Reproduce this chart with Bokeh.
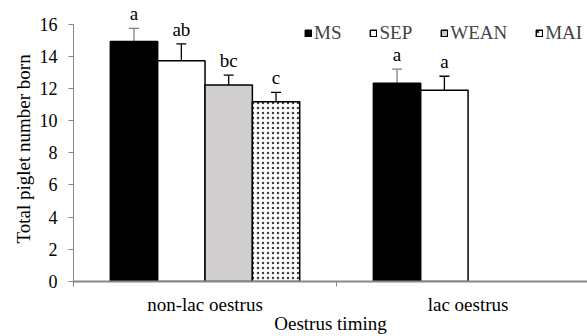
from bokeh.plotting import figure
from bokeh.models import (Range1d, FixedTicker, ColumnDataSource, Whisker, TeeHead,
                          LabelSet, Legend, LegendItem, Title)
from bokeh.embed import file_html
from bokeh.resources import INLINE

# ---- data ----
categories = ["non-lac oestrus", "lac oestrus"]
series = ["MS", "SEP", "WEAN", "MAI"]
ms_mean = [14.92, 12.32]
ms_err = [0.82, 0.88]
ms_letters = ["a", "a"]
sep_mean = [13.73, 11.89]
sep_err = [1.04, 0.87]
sep_letters = ["ab", "a"]
wean_mean = [12.22]
wean_err = [0.61]
wean_letters = ["bc"]
mai_mean = [11.18]
mai_err = [0.58]
mai_letters = ["c"]
y_ticks = [0, 2, 4, 6, 8, 10, 12, 14, 16]
x_title = "Oestrus timing"
y_title = "Total piglet number born"

FONT = "Liberation Serif"
AXIS_GREY = "#878787"
BAR_W = 0.18

p = figure(width=587, height=336, output_backend="svg", toolbar_location=None,
           x_range=Range1d(0, 1.954), y_range=Range1d(0, 17.47),
           min_border_left=73, min_border_right=0, min_border_top=0, min_border_bottom=51)
p.outline_line_color = None
p.xgrid.visible = False
p.ygrid.visible = False
p.background_fill_color = "white"

styles = {
    "MS": dict(fill_color="black", err="#808080", hatch=None),
    "SEP": dict(fill_color="white", err="black", hatch=None),
    "WEAN": dict(fill_color="#d0cece", err="black", hatch=None),
    "MAI": dict(fill_color="white", err="black", hatch="dot"),
}
data = {
    "MS": (ms_mean, ms_err, ms_letters),
    "SEP": (sep_mean, sep_err, sep_letters),
    "WEAN": (wean_mean, wean_err, wean_letters),
    "MAI": (mai_mean, mai_err, mai_letters),
}

renderers = {}
for k, name in enumerate(series):
    mean, err, letters = data[name]
    xs = [i + 0.5 + (k - 1.5) * BAR_W for i in range(len(mean))]
    src = ColumnDataSource(dict(
        x=xs, top=mean,
        upper=[m + e for m, e in zip(mean, err)],
        lower=[m - e for m, e in zip(mean, err)],
        letter=letters,
    ))
    st = styles[name]
    kw = dict(fill_color=st["fill_color"], line_color="black", line_width=1.5)
    if st["hatch"]:
        kw.update(hatch_pattern=st["hatch"], hatch_color="black", hatch_scale=5,
                  hatch_weight=0.5, hatch_alpha=0.75)
    r = p.vbar(x="x", top="top", bottom=0, width=BAR_W, source=src, **kw)
    renderers[name] = r
    w = Whisker(base="x", upper="upper", lower="lower", source=src,
                line_color=st["err"], line_width=1.3,
                upper_head=TeeHead(size=10, line_color=st["err"], line_width=1.3),
                lower_head=TeeHead(size=10, line_color=st["err"], line_width=1.3))
    p.add_layout(w)
    lbl = LabelSet(x="x", y="upper", text="letter", source=src,
                   text_align="center", text_baseline="alphabetic", y_offset=8,
                   text_font=FONT, text_font_size="19px", text_color="black")
    p.add_layout(lbl)

# ---- axes ----
xa = p.xaxis[0]
xa.ticker = FixedTicker(ticks=[i + 0.5 for i in range(len(categories))],
                        minor_ticks=list(range(len(categories) + 1)))
xa.major_label_overrides = {i + 0.5: c for i, c in enumerate(categories)}
xa.major_tick_out = 0
xa.major_tick_in = 0
xa.minor_tick_out = 5
xa.minor_tick_in = 0
xa.minor_tick_line_color = AXIS_GREY
xa.axis_line_color = AXIS_GREY
xa.axis_line_width = 2
xa.major_label_text_font = FONT
xa.major_label_text_font_size = "19px"
xa.major_label_text_line_height = 0.6
xa.major_label_text_color = "black"
xa.major_label_standoff = 7
xa.axis_label = x_title
xa.axis_label_text_font = FONT
xa.axis_label_text_font_size = "19px"
xa.axis_label_text_line_height = 0.6
xa.axis_label_text_font_style = "normal"
xa.axis_label_text_color = "black"
xa.axis_label_standoff = -5

ya = p.yaxis[0]
ya.ticker = FixedTicker(ticks=y_ticks)
ya.bounds = (y_ticks[0], y_ticks[-1])
ya.major_tick_out = 5
ya.major_tick_in = 0
ya.minor_tick_out = 0
ya.minor_tick_in = 0
ya.major_tick_line_color = AXIS_GREY
ya.axis_line_color = AXIS_GREY
ya.axis_line_width = 1
ya.major_label_text_font = FONT
ya.major_label_text_font_size = "18px"
ya.major_label_text_color = "black"
ya.major_label_standoff = 11

p.add_layout(Title(text=y_title, align="left", offset=38, standoff=6,
                   text_font=FONT, text_font_size="19px", text_font_style="normal",
                   text_color="black"), "left")

# ---- legend ----
legend = Legend(items=[LegendItem(label=n, renderers=[renderers[n]]) for n in series],
                orientation="horizontal", location=(231, 237),
                glyph_width=8, glyph_height=8, label_standoff=2, spacing=28,
                padding=0, margin=0, border_line_color=None,
                background_fill_alpha=0,
                label_text_font=FONT, label_text_font_size="19px")
p.add_layout(legend, "center")

open("out.html", "w").write(file_html(p, INLINE))
